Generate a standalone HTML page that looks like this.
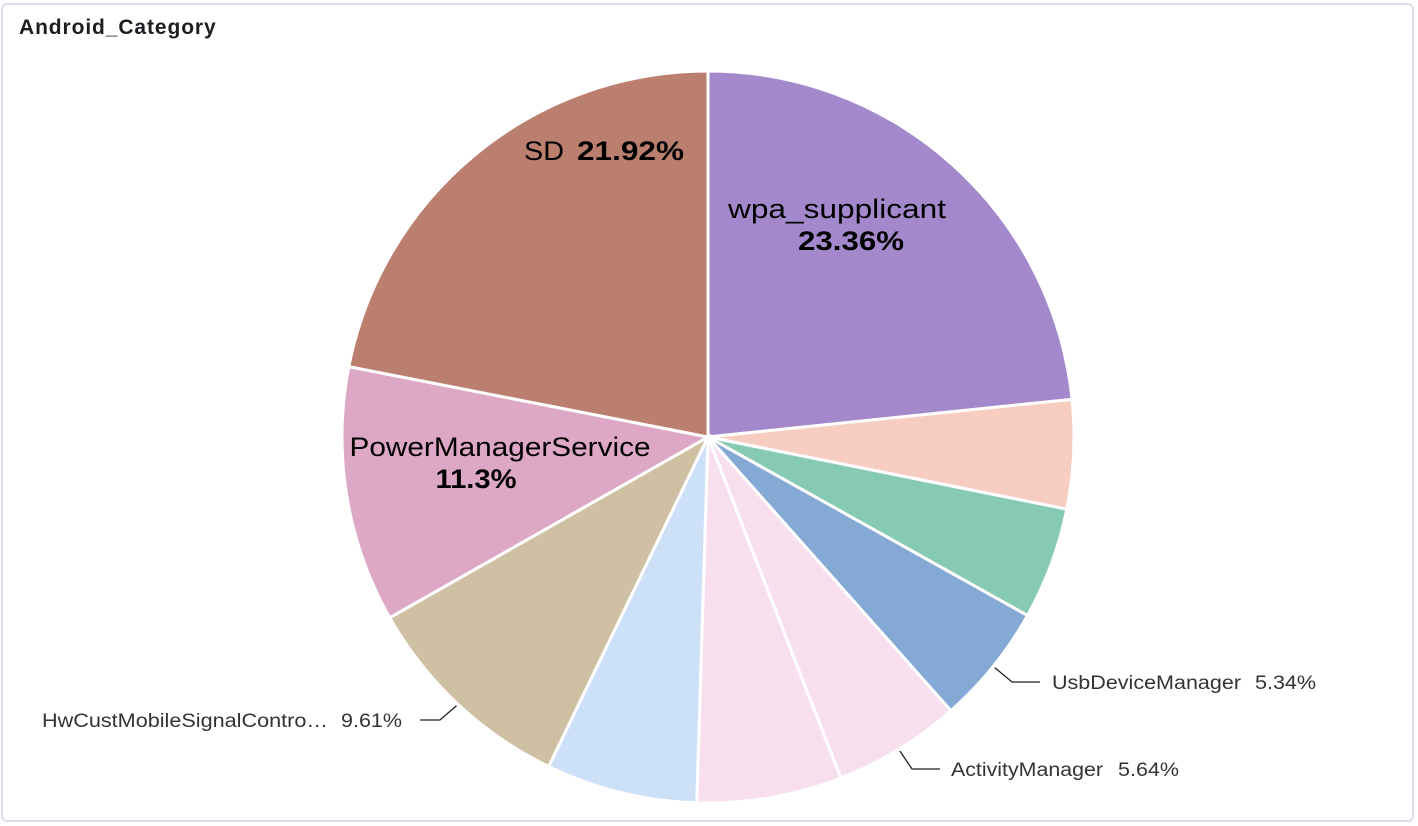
<!DOCTYPE html>
<html><head><meta charset="utf-8"><style>
html,body{margin:0;padding:0;background:#fff;}
#card{position:absolute;left:1px;top:3px;width:1413px;height:819px;border:2px solid #d9dee8;border-radius:6px;box-sizing:border-box;}
#title{position:absolute;left:19px;top:16px;font:bold 21px "Liberation Sans",sans-serif;letter-spacing:0.9px;color:#1d1d22;}
svg{position:absolute;left:0;top:0;}
</style></head><body>
<div id="card"></div>
<div id="title">Android_Category</div>
<svg id="chart" width="1418" height="826"></svg>
<script>
const categories=["wpa_supplicant","Other A","Other B","UsbDeviceManager","ActivityManager","Other C","Other D","HwCustMobileSignalContro…","PowerManagerService","SD"];
const values=[23.36,4.8,4.95,5.34,5.64,6.4,6.68,9.61,11.3,21.92];
const labels=["23.36%","4.8%","4.95%","5.34%","5.64%","6.4%","6.68%","9.61%","11.3%","21.92%"];
const colors=["#a389cc","#f7cdc1","#86cab3","#84a9d5","#f7dfee","#f7dfee","#cce0f7","#d0c0a3","#dca8c6","#bb7f6f"];
const NS="http://www.w3.org/2000/svg";
const svg=document.getElementById('chart');
const cx=708,cy=437,R=366;
const total=values.reduce((a,b)=>a+b,0);
function pt(a,r){return [cx+r*Math.sin(a),cy-r*Math.cos(a)];}
let a0=0;
const mids=[];
values.forEach((v,i)=>{
  const a1=a0+v/total*2*Math.PI;
  const p0=pt(a0,R),p1=pt(a1,R);
  const path=document.createElementNS(NS,'path');
  path.setAttribute('d',`M${cx},${cy}L${p0[0]},${p0[1]}A${R},${R} 0 ${a1-a0>Math.PI?1:0} 1 ${p1[0]},${p1[1]}Z`);
  path.setAttribute('fill',colors[i]);path.setAttribute('stroke','#fff');path.setAttribute('stroke-width','3');
  
  
  svg.appendChild(path);
  mids.push((a0+a1)/2);
  a0=a1;
});
function txt(x,y,s,size,anchor,weight,fill,name,len){
  const t=document.createElementNS(NS,'text');
  t.setAttribute('x',x);t.setAttribute('y',y);t.setAttribute('font-size',size);
  t.setAttribute('font-family','Liberation Sans, sans-serif');t.setAttribute('text-anchor',anchor);
  if(weight)t.setAttribute('font-weight',weight);t.setAttribute('fill',fill||'#000');
  t.textContent=s;
  if(len){t.setAttribute('textLength',len);t.setAttribute('lengthAdjust','spacingAndGlyphs');}
  
  
  svg.appendChild(t);return t;
}
txt(837,218,categories[0],27,'middle',null,'#000','label-wpa-supplicant',218);
txt(851,250,labels[0],27,'middle','bold','#000','value-wpa-supplicant',106);
txt(524,160,'SD',27,'start',null,'#000','label-sd',40);
txt(577,160,labels[9],27,'start','bold','#000','value-sd',107);
txt(500,456,categories[8],27,'middle',null,'#000','label-powermanagerservice',301);
txt(476,488,labels[8],27,'middle','bold','#000','value-powermanagerservice',81);
function leader(i,ex,ey,tx,side,name,nameLen,valLen,gap){
  const p=pt(mids[i],R+2);
  const l=document.createElementNS(NS,'polyline');
  const hx=side>0?ex+28:ex-20;
  l.setAttribute('points',`${p[0]},${p[1]} ${ex},${ey} ${hx},${ey}`);
  l.setAttribute('fill','none');l.setAttribute('stroke','#222');l.setAttribute('stroke-width','1.3');
  
  
  svg.appendChild(l);
  if(side>0){
    txt(tx,ey+7,categories[i],19,'start',null,'#333','label-'+name,nameLen);
    txt(tx+nameLen+gap,ey+7,labels[i],19,'start',null,'#333','value-'+name,valLen);
  }else{
    txt(tx,ey+7,labels[i],19,'end',null,'#333','value-'+name,valLen);
    txt(tx-valLen-gap,ey+7,categories[i],19,'end',null,'#333','label-'+name,nameLen);
  }
}
leader(3,1012,682,1052,1,'usbdevicemanager',189,61,14);
leader(4,912,769,951,1,'activitymanager',152,61,15);
leader(7,440,720,402,-1,'hwcust',286,61,13);
</script>
</body></html>
